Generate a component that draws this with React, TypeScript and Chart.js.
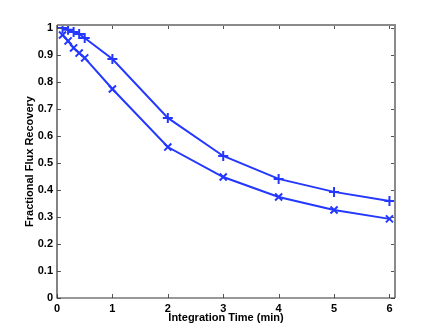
import React, { useEffect, useRef } from "react";
import { Chart, registerables } from "chart.js";

Chart.register(...registerables);

const timeUpper = [0.1, 0.2, 0.3, 0.4, 0.5, 1, 2, 3, 4, 5, 6];
const recoveryUpper = [1.0, 0.993, 0.985, 0.978, 0.963, 0.885, 0.667, 0.526, 0.441, 0.393, 0.359];
const timeLower = [0.1, 0.2, 0.3, 0.4, 0.5, 1, 2, 3, 4, 5, 6];
const recoveryLower = [0.974, 0.952, 0.926, 0.907, 0.889, 0.774, 0.559, 0.448, 0.374, 0.326, 0.293];
const xTicks = [0, 1, 2, 3, 4, 5, 6];
const yTicks = [0, 0.1, 0.2, 0.3, 0.4, 0.5, 0.6, 0.7, 0.8, 0.9, 1];

const BLUE = "rgb(35,55,255)";
const FONT = "'Liberation Sans', Arial, Helvetica, sans-serif";

const boxPlugin = {
  id: "matlabBox",
  afterDraw(chart: any) {
    const { ctx, chartArea, scales } = chart;
    const { left, right, top, bottom } = chartArea;
    ctx.save();
    const tl = 4;
    ctx.strokeStyle = "#555";
    ctx.lineWidth = 1;
    ctx.beginPath();
    scales.x.ticks.forEach((t: any) => {
      const px = Math.round(scales.x.getPixelForValue(t.value)) + 0.5;
      ctx.moveTo(px, bottom);
      ctx.lineTo(px, bottom - tl);
      ctx.moveTo(px, top);
      ctx.lineTo(px, top + tl);
    });
    scales.y.ticks.forEach((t: any) => {
      const py = Math.round(scales.y.getPixelForValue(t.value)) + 0.5;
      ctx.moveTo(left, py);
      ctx.lineTo(left + tl, py);
      ctx.moveTo(right, py);
      ctx.lineTo(right - tl, py);
    });
    ctx.stroke();
    ctx.strokeStyle = "#8a8a8a";
    ctx.lineWidth = 2;
    ctx.beginPath();
    ctx.moveTo(left, top);
    ctx.lineTo(right, top);
    ctx.lineTo(right, bottom);
    ctx.stroke();
    ctx.strokeStyle = "#333";
    ctx.lineWidth = 1.2;
    ctx.beginPath();
    ctx.moveTo(left, top);
    ctx.lineTo(left, bottom);
    ctx.lineTo(right, bottom);
    ctx.stroke();
    ctx.restore();
  },
};

export default function App() {
  const ref = useRef<HTMLCanvasElement | null>(null);
  useEffect(() => {
    if (!ref.current) return;
    const chart = new Chart(ref.current, {
      type: "line",
      data: {
        datasets: [
          {
            data: timeUpper.map((x, i) => ({ x, y: recoveryUpper[i] })),
            borderColor: BLUE,
            backgroundColor: BLUE,
            borderWidth: 2,
            pointStyle: "cross",
            pointRadius: 5,
            pointBorderWidth: 2,
            pointBorderColor: BLUE,
            tension: 0,
          },
          {
            data: timeLower.map((x, i) => ({ x, y: recoveryLower[i] })),
            borderColor: BLUE,
            backgroundColor: BLUE,
            borderWidth: 2,
            pointStyle: "crossRot",
            pointRadius: 5,
            pointBorderWidth: 2,
            pointBorderColor: BLUE,
            tension: 0,
          },
        ],
      },
      options: {
        animation: false,
        responsive: false,
        events: [],
        layout: { padding: { top: 25, right: 41, left: 0, bottom: 0 } },
        plugins: { legend: { display: false }, tooltip: { enabled: false } },
        scales: {
          x: {
            type: "linear",
            min: 0,
            max: 6.1,
            afterBuildTicks: (s: any) => {
              s.ticks = xTicks.map((v) => ({ value: v }));
            },
            afterFit: (s: any) => {
              s.height = 38;
            },
            grid: { display: false, drawTicks: false },
            border: { display: false },
            ticks: {
              padding: 4,
              color: "#000",
              font: { family: FONT, size: 11, weight: "bold" },
              maxRotation: 0,
              callback: (v: any) => String(v),
            },
            title: {
              display: true,
              text: "Integration Time (min)",
              color: "#000",
              font: { family: FONT, size: 11, weight: "bold" },
              padding: { top: 0, bottom: 11 },
            },
          },
          y: {
            type: "linear",
            min: 0,
            max: 1.011,
            afterBuildTicks: (s: any) => {
              s.ticks = yTicks.map((v) => ({ value: v }));
            },
            afterFit: (s: any) => {
              s.width = 57;
            },
            grid: { display: false, drawTicks: false },
            border: { display: false },
            ticks: {
              padding: 4,
              color: "#000",
              font: { family: FONT, size: 11, weight: "bold" },
              callback: (v: any) => (v === 0 ? "0" : v === 1 ? "1" : Number(v).toFixed(1)),
            },
            title: {
              display: true,
              text: "Fractional Flux Recovery",
              color: "#000",
              font: { family: FONT, size: 11, weight: "bold" },
              padding: { top: 23, bottom: 0 },
            },
          },
        },
      },
      plugins: [boxPlugin],
    } as any);
    return () => chart.destroy();
  }, []);
  return (
    <div style={{ position: "fixed", left: 0, top: 0, width: 436, height: 336, background: "#fff" }}>
      <canvas ref={ref} width={436} height={336} style={{ width: 436, height: 336, display: "block" }} />
    </div>
  );
}
